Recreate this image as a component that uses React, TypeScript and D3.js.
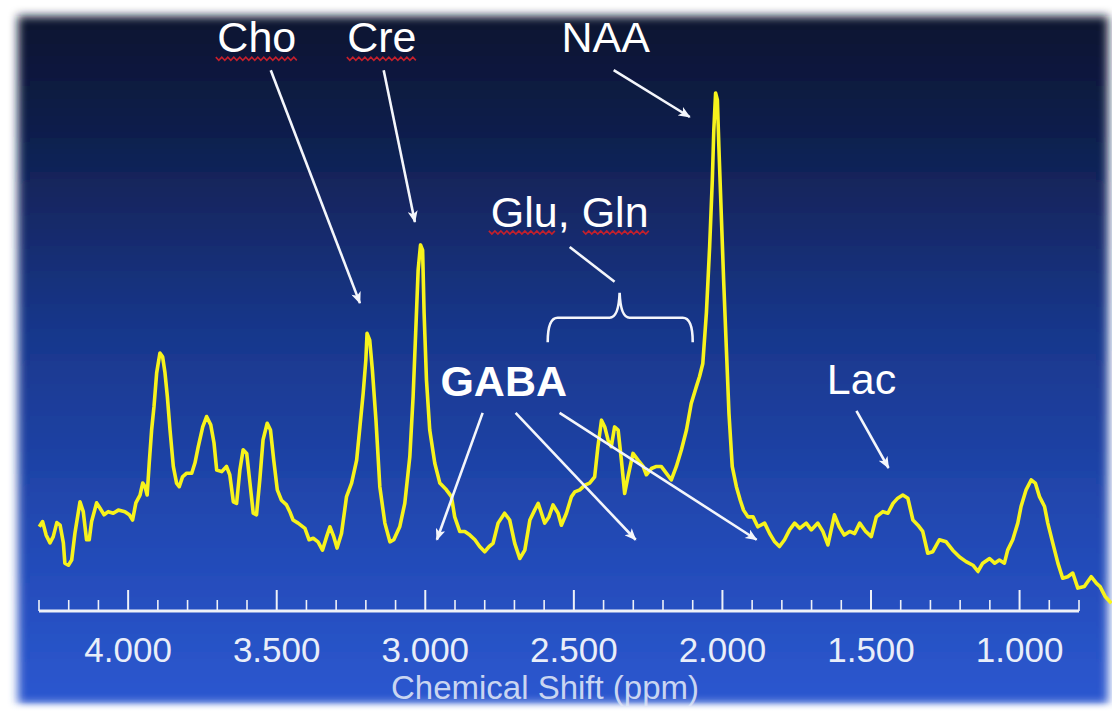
import { useMemo } from "react";
import * as d3 from "d3";

// spectrum (ppm, arbitrary signal units)
const ppm = [
  4.299, 4.288, 4.276, 4.263, 4.252, 4.24, 4.229, 4.218, 4.213, 4.201, 4.19, 4.179, 4.162, 4.151, 4.14, 4.131,
  4.123, 4.106, 4.095, 4.081, 4.067, 4.05, 4.033, 4.011, 3.996, 3.985, 3.974, 3.96, 3.951, 3.943, 3.936, 3.929,
  3.921, 3.913, 3.904, 3.893, 3.884, 3.876, 3.868, 3.859, 3.848, 3.837, 3.828, 3.817, 3.803, 3.786, 3.775, 3.764,
  3.749, 3.736, 3.722, 3.711, 3.702, 3.685, 3.669, 3.658, 3.646, 3.635, 3.624, 3.613, 3.601, 3.59, 3.579, 3.568,
  3.557, 3.546, 3.532, 3.521, 3.51, 3.498, 3.484, 3.467, 3.456, 3.445, 3.428, 3.405, 3.391, 3.377, 3.361, 3.346,
  3.332, 3.321, 3.308, 3.297, 3.282, 3.265, 3.248, 3.231, 3.22, 3.209, 3.2, 3.196, 3.187, 3.178, 3.166, 3.153,
  3.136, 3.119, 3.106, 3.086, 3.069, 3.052, 3.041, 3.032, 3.024, 3.016, 3.009, 3.004, 2.996, 2.985, 2.968, 2.951,
  2.929, 2.912, 2.901, 2.884, 2.867, 2.85, 2.833, 2.817, 2.8, 2.785, 2.772, 2.755, 2.733, 2.716, 2.699, 2.682,
  2.665, 2.648, 2.632, 2.62, 2.609, 2.598, 2.584, 2.57, 2.553, 2.542, 2.525, 2.508, 2.497, 2.48, 2.463, 2.447,
  2.43, 2.419, 2.407, 2.396, 2.385, 2.374, 2.363, 2.351, 2.34, 2.329, 2.318, 2.301, 2.284, 2.267, 2.256, 2.239,
  2.222, 2.206, 2.189, 2.172, 2.155, 2.138, 2.121, 2.105, 2.088, 2.077, 2.066, 2.054, 2.043, 2.034, 2.029, 2.023,
  2.017, 2.012, 2.004, 1.996, 1.987, 1.978, 1.967, 1.953, 1.94, 1.929, 1.914, 1.897, 1.881, 1.858, 1.841, 1.824,
  1.808, 1.791, 1.774, 1.757, 1.74, 1.718, 1.701, 1.679, 1.662, 1.645, 1.623, 1.607, 1.59, 1.572, 1.555, 1.538,
  1.518, 1.499, 1.482, 1.46, 1.443, 1.426, 1.41, 1.393, 1.376, 1.359, 1.342, 1.326, 1.309, 1.292, 1.27, 1.247,
  1.225, 1.202, 1.18, 1.157, 1.14, 1.124, 1.101, 1.084, 1.068, 1.051, 1.04, 1.023, 1.006, 0.995, 0.978, 0.961,
  0.947, 0.933, 0.916, 0.905, 0.888, 0.871, 0.855, 0.838, 0.821, 0.804, 0.782, 0.759, 0.741, 0.729, 0.712, 0.691,
];

const signal = [
  16.2, 17.2, 14.6, 13.1, 14.3, 17.0, 16.5, 13.1, 9.2, 8.8, 9.8, 15.0, 21.0, 19.1, 13.7, 13.7,
  17.2, 20.8, 19.8, 18.5, 19.1, 18.8, 19.4, 19.1, 18.5, 17.5, 20.8, 22.3, 24.6, 23.9, 22.3, 28.5,
  34.8, 39.3, 45.8, 49.6, 48.9, 45.8, 41.2, 34.8, 27.8, 24.6, 23.9, 25.8, 26.5, 26.5, 28.5, 31.6,
  35.4, 37.4, 35.8, 32.3, 27.1, 26.8, 27.8, 26.2, 21.0, 20.7, 27.1, 31.0, 30.3, 24.6, 18.8, 18.5,
  25.2, 32.9, 36.1, 34.8, 29.0, 23.3, 21.3, 20.4, 19.1, 17.5, 16.9, 15.9, 13.7, 14.0, 13.3, 11.7,
  14.3, 16.2, 14.3, 12.1, 14.9, 22.0, 24.6, 29.0, 35.4, 41.9, 48.3, 53.4, 52.1, 46.3, 36.7, 23.9,
  16.9, 13.3, 13.7, 16.2, 20.7, 29.7, 41.2, 54.0, 65.6, 70.4, 69.4, 57.3, 44.4, 34.8, 28.4, 24.6,
  23.3, 22.0, 18.1, 15.3, 15.3, 14.6, 13.7, 12.4, 11.4, 12.4, 13.0, 16.9, 18.8, 17.5, 13.0, 10.1,
  11.7, 17.5, 19.4, 20.7, 18.8, 16.9, 18.1, 20.4, 18.8, 16.5, 18.8, 22.0, 22.9, 23.3, 24.2, 24.6,
  25.8, 31.6, 36.7, 35.4, 32.9, 31.6, 35.4, 34.8, 29.0, 22.6, 25.8, 30.3, 29.0, 27.8, 26.2, 27.4,
  27.8, 27.8, 26.5, 25.2, 27.8, 31.0, 34.8, 39.9, 43.1, 45.1, 47.6, 57.3, 70.1, 82.9, 92.5, 99.6,
  98.3, 89.3, 76.5, 63.7, 50.8, 38.0, 27.8, 23.9, 21.3, 19.4, 18.1, 18.1, 16.2, 16.9, 14.9, 13.3,
  12.4, 13.7, 15.6, 16.9, 15.9, 16.9, 15.6, 16.9, 15.3, 12.7, 18.5, 16.2, 14.6, 15.3, 14.9, 16.9,
  15.3, 14.3, 18.1, 19.1, 18.8, 20.7, 21.7, 22.3, 21.7, 17.5, 16.5, 15.3, 11.1, 11.4, 13.7, 13.3,
  11.7, 10.4, 9.5, 8.8, 7.6, 9.2, 10.1, 9.2, 9.8, 9.2, 11.7, 13.7, 16.9, 20.1, 23.3, 25.2,
  24.6, 22.0, 20.1, 16.9, 13.0, 9.2, 6.3, 6.6, 7.3, 4.4, 4.7, 6.6, 5.3, 4.7, 2.8, 1.5,
];

// metabolite labels (anchor = text centre / baseline, in ppm & signal units)
const labelText = ["Cho", "Cre", "NAA", "Glu, Gln", "GABA", "Lac"];
const labelPpm = [3.567, 3.146, 2.393, 2.514, 2.736, 1.532];
const labelSig = [107.5, 107.5, 107.5, 73.8, 41.3, 41.7];
const labelBold = [false, false, false, false, true, false];

// arrows pointing at the peaks
const arrowFromPpm = [3.52, 3.14, 2.366, 2.807, 2.696, 2.548, 1.549, 2.514];
const arrowFromSig = [104.0, 104.0, 104.0, 38.1, 38.1, 38.1, 38.5, 70.0];
const arrowToPpm = [3.22, 3.035, 2.11, 2.961, 2.292, 1.885, 1.441, 2.363];
const arrowToSig = [59.2, 74.8, 95.0, 13.7, 13.7, 13.7, 27.5, 63.3];
const arrowHead = [true, true, true, true, true, true, true, false];

// spell-check underlines [ppm start, ppm end, signal]
const squiggles = [
  [3.705, 3.429, 106.2],
  [3.264, 3.025, 106.2],
  [2.786, 2.554, 72.8],
  [2.47, 2.241, 72.8],
];

// Glu/Gln brace: left end, bar level, tip, right end
const braceLeft = 2.588;
const braceRight = 2.1;
const braceTip = 2.346;
const braceEndSig = 51.7;
const braceBarSig = 56.4;
const braceTipSig = 61.2;

const W = 1112;
const H = 711;
const FONT = "'Liberation Sans', Arial, Helvetica, sans-serif";

export default function App() {
  const x = useMemo(() => d3.scaleLinear().domain([4.3, 0.8]).range([39, 1079]), []);
  const y = useMemo(() => d3.scaleLinear().domain([0, 100]).range([611, 91]), []);

  const linePath = d3
    .line<number>()
    .x((_, i) => x(ppm[i]))
    .y((d) => y(d))(signal);

  const major = x.ticks(7);
  const minor = x.ticks(35).filter((t) => !major.some((m) => Math.abs(m - t) < 1e-6));
  const axisY = y(0);

  const squigglePath = (x0: number, x1: number, yy: number) => {
    const pts: [number, number][] = [];
    let k = 0;
    for (let px = x0; px <= x1; px += 3) {
      pts.push([px, yy + (k % 2 === 0 ? -1.6 : 1.6)]);
      k++;
    }
    return d3.line()(pts);
  };

  // brace built from its anchor values
  const bl = x(braceLeft), br = x(braceRight), bt = x(braceTip);
  const be = y(braceEndSig), bb = y(braceBarSig), tip = y(braceTipSig);
  const bracePath =
    `M${bl},${be} Q${bl},${bb} ${bl + 10},${bb} L${bt - 10},${bb} Q${bt - 1},${bb} ${bt},${tip}` +
    ` Q${bt + 1},${bb} ${bt + 10},${bb} L${br - 10},${bb} Q${br},${bb} ${br},${be}`;

  return (
    <div style={{ position: "absolute", left: 0, top: 0 }}>
      <svg width={W} height={H} style={{ display: "block", background: "#ffffff" }}>
        <defs>
          <linearGradient id="bg" x1="0" y1="0" x2="0" y2="1">
            <stop offset="0" stopColor="#0a1330" />
            <stop offset="0.15" stopColor="#0f1d48" />
            <stop offset="0.45" stopColor="#18368a" />
            <stop offset="0.75" stopColor="#2249b4" />
            <stop offset="1" stopColor="#2b57d0" />
          </linearGradient>
          <linearGradient id="fadeBottom" x1="0" y1="0" x2="0" y2="1">
            <stop offset="0" stopColor="#ffffff" stopOpacity="0" />
            <stop offset="1" stopColor="#ffffff" stopOpacity="1" />
          </linearGradient>
          <filter id="soft" x="-5%" y="-5%" width="110%" height="110%">
            <feGaussianBlur stdDeviation="5" />
          </filter>
          <marker
            id="head"
            viewBox="0 0 12 10"
            refX="11"
            refY="5"
            markerWidth="13"
            markerHeight="10"
            markerUnits="userSpaceOnUse"
            orient="auto"
          >
            <path d="M0,0 L12,5 L0,10 L3,5 z" fill="#f4f6fb" />
          </marker>
        </defs>

        {/* slide panel with soft edges */}
        <rect x={18} y={16} width={1090} height={688} fill="url(#bg)" filter="url(#soft)" />

        {/* axis */}
        <g stroke="#eef1f8" strokeLinecap="butt">
          <line x1={x(4.3)} x2={x(0.8)} y1={axisY} y2={axisY} strokeWidth={3} />
          {major.map((t) => (
            <line key={"M" + t} x1={x(t)} x2={x(t)} y1={axisY} y2={axisY - 21} strokeWidth={2} />
          ))}
          {minor.map((t) => (
            <line key={"m" + t} x1={x(t)} x2={x(t)} y1={axisY} y2={axisY - 11} strokeWidth={1.6} />
          ))}
        </g>
        <g fill="#e9eef9" fontFamily={FONT} fontSize={35} textAnchor="middle">
          {major.map((t) => (
            <text key={"l" + t} x={x(t)} y={662}>
              {d3.format(".3f")(t)}
            </text>
          ))}
        </g>
        <text x={545} y={699} fill="#c9d5f1" fontFamily={FONT} fontSize={33} textAnchor="middle">
          Chemical Shift (ppm)
        </text>

        {/* spectrum */}
        <path d={linePath ?? ""} fill="none" stroke="#f7f31c" strokeWidth={3.6} strokeLinejoin="round" />

        {/* annotations */}
        <g stroke="#f4f6fb" strokeWidth={2.6} fill="none">
          {arrowFromPpm.map((p, i) => (
            <line
              key={"a" + i}
              x1={x(p)}
              y1={y(arrowFromSig[i])}
              x2={x(arrowToPpm[i])}
              y2={y(arrowToSig[i])}
              markerEnd={arrowHead[i] ? "url(#head)" : undefined}
            />
          ))}
          <path d={bracePath} />
        </g>
        <g stroke="#c4202c" strokeWidth={1.6} fill="none">
          {squiggles.map((s, i) => (
            <path key={"s" + i} d={squigglePath(x(s[0]), x(s[1]), y(s[2])) ?? ""} />
          ))}
        </g>
        <g fill="#ffffff" fontFamily={FONT} textAnchor="middle">
          {labelText.map((t, i) => (
            <text
              key={t}
              x={x(labelPpm[i])}
              y={y(labelSig[i])}
              fontSize={43}
              fontWeight={labelBold[i] ? "bold" : "normal"}
            >
              {t}
            </text>
          ))}
        </g>

        {/* fade of the slide's bottom edge */}
        <rect x={0} y={702} width={W} height={9} fill="url(#fadeBottom)" />
      </svg>
    </div>
  );
}
